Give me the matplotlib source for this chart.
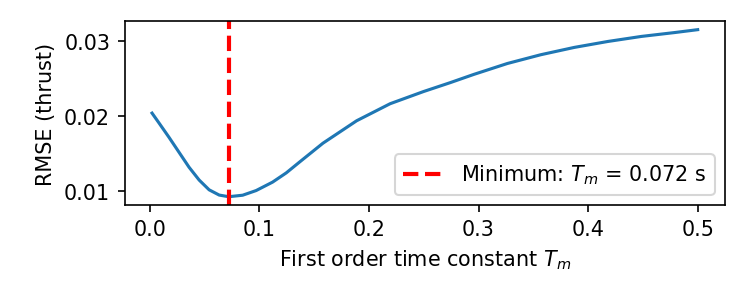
import numpy as np
import matplotlib.pyplot as plt

# ---------- data ----------
tm = [0.002, 0.0083, 0.0174, 0.0266, 0.0358, 0.045, 0.0541, 0.0633, 0.072,
      0.0847, 0.097, 0.112, 0.1245, 0.1367, 0.158, 0.1887, 0.2193, 0.2498,
      0.2743, 0.2957, 0.3263, 0.3569, 0.3874, 0.418, 0.4486, 0.4792, 0.5]
rmse = [0.0204, 0.0191, 0.0172, 0.0152, 0.0132, 0.01150, 0.0102, 0.00950, 0.00928,
        0.00948, 0.0101, 0.01122, 0.01245, 0.01390, 0.01640, 0.01938, 0.02165,
        0.02327, 0.02446, 0.02555, 0.02700, 0.02817, 0.02914, 0.02993, 0.0306,
        0.03112, 0.0315]
tm_min = 0.072

fig, ax = plt.subplots(figsize=(5, 2), dpi=149.4)
fig.subplots_adjust(left=0.167, right=0.9705, bottom=0.311, top=0.926)

ax.plot(tm, rmse, color='#1f77b4')
ax.axvline(tm_min, color='red', ls='--', lw=2,
           label=f'Minimum: $T_m$ = {tm_min:.3f} s')

ax.set_xlabel('First order time constant $T_m$')
ax.set_ylabel('RMSE (thrust)')
ax.set_yticks([0.01, 0.02, 0.03])
ax.legend(loc='lower right')

fig.savefig('out.png', dpi=149.4)
